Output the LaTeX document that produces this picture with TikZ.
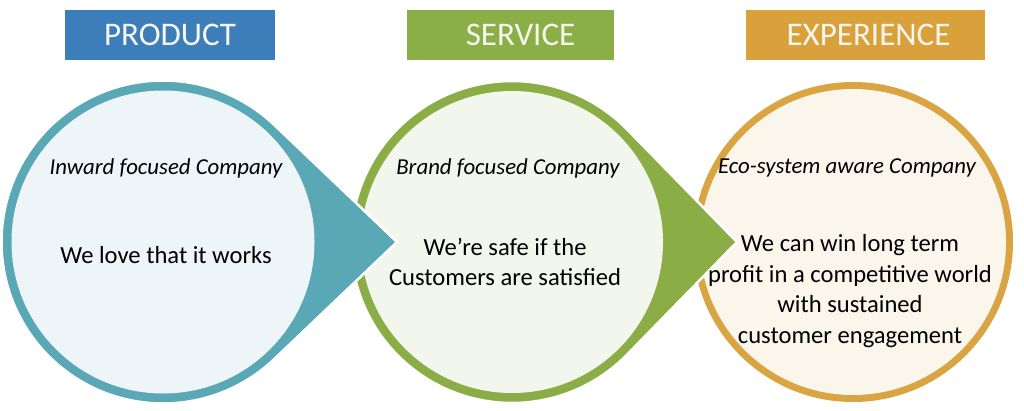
\documentclass[tikz,border=0pt]{standalone}
\usepackage{fontspec}
\setmainfont{Carlito}
\definecolor{ringteal}{HTML}{5AA7B5}
\definecolor{innerteal}{HTML}{EEF5F8}
\definecolor{ringgreen}{HTML}{8BAD46}
\definecolor{innergreen}{HTML}{F3F6EC}
\definecolor{ringgold}{HTML}{D9A441}
\definecolor{innergold}{HTML}{FBF6EC}
\definecolor{hdrblue}{HTML}{3D7EBA}
\definecolor{hdrgreen}{HTML}{8BAF47}
\definecolor{hdrgold}{HTML}{D9A13C}
\definecolor{hdrtext}{HTML}{F6F6EE}
\newcommand\drawdrop[5]{%
  \pgfmathsetmacro\dropal{acos(#3/(#4-#1))}%
  \path[fill=#5, draw=white, line width=2.5]
    ({#1+#3*cos(\dropal)},{#2+#3*sin(\dropal)}) -- (#4,#2)
    -- ({#1+#3*cos(\dropal)},{#2-#3*sin(\dropal)})
    arc[start angle=-\dropal, end angle=\dropal-360, radius=#3] -- cycle;
}
\begin{document}
\begin{tikzpicture}[x=1pt,y=-1pt,
  hdr/.style={inner sep=0pt, minimum height=50pt, text=hdrtext,
    font=\fontsize{33}{37}\selectfont},
  sub/.style={font=\fontsize{22.8}{26}\selectfont\itshape, inner sep=0pt},
  body/.style={font=\fontsize{24.6}{30.5}\selectfont, align=center, inner sep=0pt}]
\useasboundingbox[fill=white] (0,0) rectangle (1024,410);
% headers
\node[hdr, fill=hdrblue, minimum width=210pt] (h1) at (170,35) {PRODUCT};
\node[hdr, fill=hdrgreen, minimum width=207pt] (h2) at (510.5,35) {\hspace*{20pt}SERVICE};
\node[hdr, fill=hdrgold, minimum width=239pt] (h3) at (865.5,35) {\hspace*{6pt}EXPERIENCE};
% circle 3
\fill[ringgold] (853,242) circle[radius=160];
\fill[innergold] (853,242) circle[radius=153];
% circle 2
\drawdrop{512}{242}{161}{737}{ringgreen}
\fill[innergreen] (512,242) circle[radius=151];
% circle 1
\drawdrop{163}{242}{161.5}{397}{ringteal}
\fill[innerteal] (163,242) circle[radius=151.5];
% texts
\node[sub] (s1) at (166,168) {Inward focused Company};
\node[body] (b1) at (166,255) {We love that it works};
\node[sub] (s2) at (508,168) {Brand focused Company};
\node[body] (b2) at (505,262) {We’re safe if the\\Customers are satisfied};
\node[sub] (s3) at (847,168) {Eco-system aware Company};
\node[body] (b3) at (850,291) {We can win long term\\profit in a competitive world\\with sustained\\customer engagement};
\end{tikzpicture}
\end{document}
